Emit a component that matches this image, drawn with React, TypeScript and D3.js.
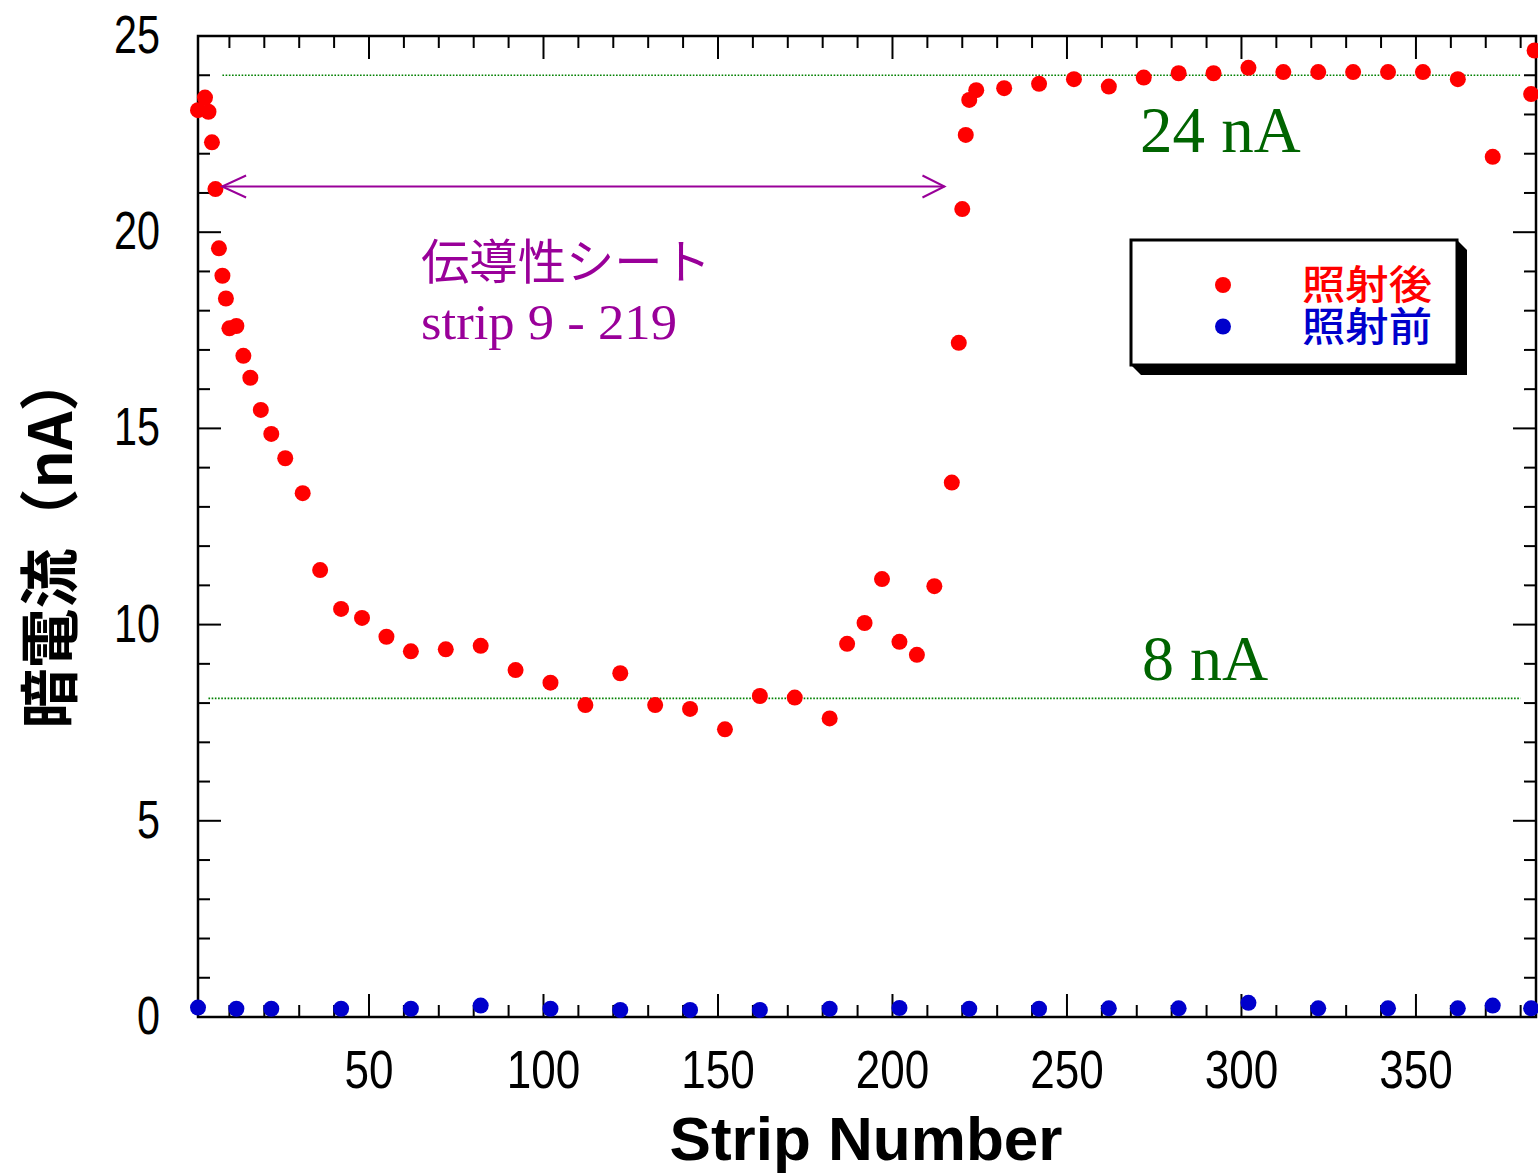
import React from "react";
import * as d3 from "d3";

// ---- data ----
const afterStrips = [1, 3, 4, 5, 6, 7, 8, 9, 10, 12, 14, 16, 19, 22, 26, 31, 36, 42, 48, 55, 62, 72, 82, 92, 102, 112, 122, 132, 142, 152, 162, 172, 182, 187, 192, 197, 202, 207, 212, 217, 219, 220, 221, 222, 224, 232, 242, 252, 262, 272, 282, 292, 302, 312, 322, 332, 342, 352, 362, 372, 383, 384];
const afterCurrent = [23.11, 23.43, 23.07, 22.29, 21.1, 19.59, 18.89, 18.31, 17.55, 17.61, 16.85, 16.29, 15.47, 14.86, 14.24, 13.35, 11.39, 10.4, 10.17, 9.69, 9.32, 9.37, 9.46, 8.84, 8.52, 7.95, 8.76, 7.95, 7.85, 7.33, 8.18, 8.14, 7.61, 9.51, 10.04, 11.16, 9.56, 9.23, 10.98, 13.62, 17.18, 20.59, 22.48, 23.37, 23.62, 23.67, 23.78, 23.9, 23.71, 23.94, 24.05, 24.05, 24.19, 24.08, 24.08, 24.08, 24.08, 24.08, 23.9, 21.92, 23.52, 24.63];
const beforeStrips = [1, 12, 22, 42, 62, 82, 102, 122, 142, 162, 182, 202, 222, 242, 262, 282, 302, 322, 342, 362, 372, 383];
const beforeCurrent = [0.24, 0.21, 0.21, 0.21, 0.21, 0.29, 0.21, 0.18, 0.18, 0.18, 0.21, 0.23, 0.21, 0.21, 0.22, 0.22, 0.36, 0.22, 0.22, 0.22, 0.29, 0.22];
const xTickLabels = [50, 100, 150, 200, 250, 300, 350];
const yTickLabels = [0, 5, 10, 15, 20, 25];
const refLevels = [24, 8.12];
const refLabels = ["24 nA", "8 nA"];
const seriesNames = ["照射後", "照射前"];
const xTitle = "Strip Number";
const yTitle = "暗電流（nA）";
const sheetLabel = "伝導性シート";
const sheetRange = "strip 9 - 219";

// ---- layout ----
const W = 1538, H = 1175;
const L = 198, R = 1536, T = 36, B = 1017;
const RED = "#ff0000", BLUE = "#0000cc", GREEN = "#006400", PURPLE = "#990099";
const GOTHIC = "'Noto Sans CJK JP', 'Noto Sans', sans-serif";
const SANS = "'Liberation Sans', Arial, sans-serif";
const SERIF = "'Liberation Serif', 'DejaVu Serif', serif";

export default function App() {
  const x = d3.scaleLinear().domain([1, 384.4]).range([L, R]);
  const y = d3.scaleLinear().domain([0, 25]).range([B, T]);
  const xMinor = d3.range(10, 381, 10);
  const yMinor = d3.range(1, 25, 1);
  const after = afterStrips.map((s, i) => ({ s, v: afterCurrent[i] }));
  const before = beforeStrips.map((s, i) => ({ s, v: beforeCurrent[i] }));

  const arrowY = 186.5;
  const ax1 = x(7.9), ax2 = x(214.9);

  return (
    <svg width={W} height={H} style={{ position: "absolute", left: 0, top: 0, background: "#fff" }}>
      <rect x={0} y={0} width={W} height={H} fill="#fff" />
      {/* reference dotted lines */}
      <line x1={x(8)} x2={x(380)} y1={y(refLevels[0])} y2={y(refLevels[0])} stroke="#008000" strokeWidth={1.6} strokeDasharray="1.6,1.6" />
      <line x1={x(4)} x2={x(380)} y1={y(refLevels[1])} y2={y(refLevels[1])} stroke="#008000" strokeWidth={1.6} strokeDasharray="1.6,1.6" />

      {/* ticks */}
      <g stroke="#000" strokeWidth={2}>
        {xMinor.map((v) => {
          const major = v % 50 === 0;
          const len = major ? 23 : 12;
          return (
            <g key={"xt" + v}>
              <line x1={x(v)} x2={x(v)} y1={B} y2={B - len} />
              <line x1={x(v)} x2={x(v)} y1={T} y2={T + len} />
            </g>
          );
        })}
        {yMinor.map((v) => {
          const major = v % 5 === 0;
          const len = major ? 23 : 12;
          return (
            <g key={"yt" + v}>
              <line x1={L} x2={L + len} y1={y(v)} y2={y(v)} />
              <line x1={R} x2={R - len} y1={y(v)} y2={y(v)} />
            </g>
          );
        })}
      </g>
      <rect x={L} y={T} width={R - L} height={B - T} fill="none" stroke="#000" strokeWidth={2.5} />

      {/* tick labels */}
      <g fontFamily={SANS} fontSize={54} fill="#000">
        {xTickLabels.map((v) => (
          <text key={"xl" + v} x={x(v)} y={1088} textAnchor="middle" textLength={24.5 * String(v).length} lengthAdjust="spacingAndGlyphs">{v}</text>
        ))}
        {yTickLabels.map((v) => (
          <text key={"yl" + v} x={160} y={y(v) + 17} textAnchor="end" textLength={23 * String(v).length} lengthAdjust="spacingAndGlyphs">{v}</text>
        ))}
      </g>

      {/* axis titles */}
      <text x={866} y={1160} textAnchor="middle" fontFamily={SANS} fontSize={62} fontWeight="bold" textLength={393} lengthAdjust="spacingAndGlyphs">{xTitle}</text>
      <text transform="translate(72,540) rotate(-90)" textAnchor="middle" fontFamily={GOTHIC} fontSize={60} fontWeight="bold">{yTitle}</text>

      {/* data */}
      <g fill={RED}>
        {after.map((d, i) => <circle key={"a" + i} cx={x(d.s)} cy={y(d.v)} r={8} />)}
      </g>
      <g fill={BLUE}>
        {before.map((d, i) => <circle key={"b" + i} cx={x(d.s)} cy={y(d.v)} r={8} />)}
      </g>

      {/* arrow annotation */}
      <g stroke={PURPLE} strokeWidth={2} fill="none">
        <line x1={ax1} x2={ax2} y1={arrowY} y2={arrowY} />
        <polyline points={`${ax1 + 24},${arrowY - 11} ${ax1},${arrowY} ${ax1 + 24},${arrowY + 11}`} />
        <polyline points={`${ax2 - 22},${arrowY - 11} ${ax2},${arrowY} ${ax2 - 22},${arrowY + 11}`} />
      </g>
      <text x={421} y={279} fontFamily={GOTHIC} fontSize={48} fill={PURPLE} textLength={290} lengthAdjust="spacingAndGlyphs">{sheetLabel}</text>
      <text x={421} y={339} fontFamily={SERIF} fontSize={51} fill={PURPLE} textLength={256} lengthAdjust="spacingAndGlyphs">{sheetRange}</text>

      {/* level labels */}
      <text x={1140} y={152} fontFamily={SERIF} fontSize={65} fill={GREEN}>{refLabels[0]}</text>
      <text x={1142} y={680} fontFamily={SERIF} fontSize={64} fill={GREEN}>{refLabels[1]}</text>

      {/* legend */}
      <polygon points="1457,240 1467,250 1467,375 1141,375 1131,365 1131,240" fill="#000" />
      <rect x={1131} y={240} width={326} height={125} fill="#fff" stroke="#000" strokeWidth={3} />
      <circle cx={1223} cy={285} r={8} fill={RED} />
      <circle cx={1223} cy={326.5} r={8} fill={BLUE} />
      <text x={1302} y={299} fontFamily={GOTHIC} fontSize={40} fontWeight={500} fill={RED} textLength={130} lengthAdjust="spacingAndGlyphs">{seriesNames[0]}</text>
      <text x={1302} y={341} fontFamily={GOTHIC} fontSize={40} fontWeight={500} fill={BLUE} textLength={130} lengthAdjust="spacingAndGlyphs">{seriesNames[1]}</text>
    </svg>
  );
}
